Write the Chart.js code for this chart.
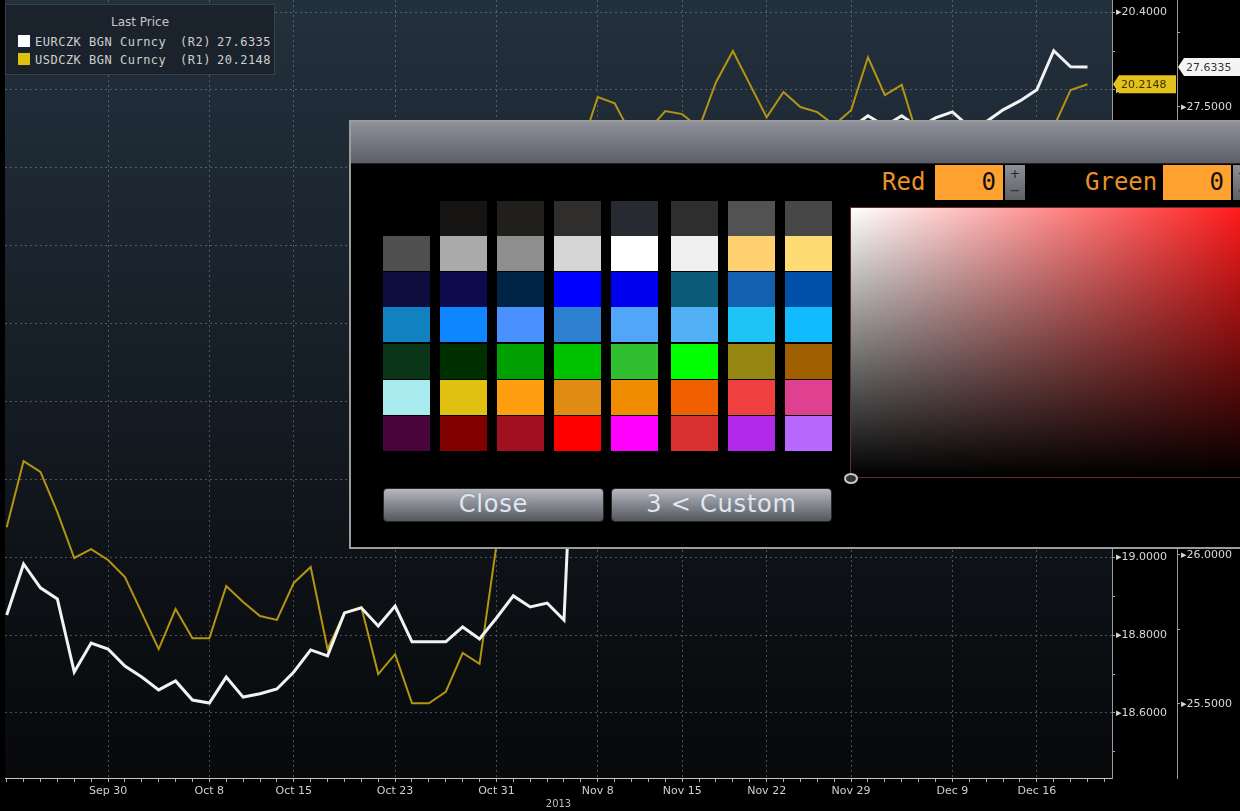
<!DOCTYPE html>
<html>
<head>
<meta charset="utf-8">
<title>EURCZK / USDCZK - Last Price</title>
<script src="https://cdn.jsdelivr.net/npm/chart.js@4.4.1/dist/chart.umd.min.js"></script>
<style>
  html, body { margin: 0; padding: 0; background: #000; }
  #wrap { position: relative; width: 1240px; height: 811px; overflow: hidden; font-family: 'DejaVu Sans', sans-serif; }
  #chart { position: absolute; left: 0; top: 0; }
  .abs { position: absolute; white-space: nowrap; }
  .legend { left: 5px; top: 4px; width: 268px; height: 69px; background: #1a232c; border: 1px solid #36424e; }
  .lg { font-family: 'DejaVu Sans Mono', monospace; font-size: 12px; letter-spacing: 0.5px; color: #cfcfcf; line-height: 16px; }
  .sq { width: 12px; height: 12px; }
  .dlg { left: 349px; top: 120px; width: 900px; height: 425px; background: #000; border: 2px solid #9c9c9c; border-right: none; }
  .dlg-title { position: absolute; left: 0; top: 0; right: 0; height: 41px; background: linear-gradient(#8e909a, #5d5f68); border-bottom: 1px solid #222; }
  .sw { position: absolute; width: 47px; height: 35px; }
  .btn { height: 32px; border-radius: 4px; border: 1px solid #2a2a2a; background: linear-gradient(#b6b8be, #8a8c94 45%, #55575f); color: #e6e6e6; font-size: 24px; letter-spacing: 0.8px; line-height: 31px; text-align: center; text-shadow: 0 0 2px #6a8cb0; }
  .lab { font-family: 'DejaVu Sans Mono', monospace; font-size: 24px; color: #e8922a; line-height: 34px; }
  .inp { height: 35px; background: #ffa12e; color: #111; font-family: 'DejaVu Sans Mono', monospace; font-size: 24px; line-height: 35px; text-align: right; box-sizing: border-box; padding-right: 7px; }
  .spin { width: 20px; height: 35px; background: linear-gradient(#8e9096, #5e6066); color: #2a2a2a; font-size: 13px; line-height: 17px; text-align: center; }
  .grad { left: 850px; top: 207px; width: 392px; height: 271px; border: 1px solid #6b2a2a; box-sizing: border-box;
          background: linear-gradient(to top, #000, rgba(0,0,0,0)), linear-gradient(to right, #fff, #ff1a1a); }
  .mark { left: 844px; top: 473px; width: 10px; height: 7px; border: 2px solid #c8c8c8; border-radius: 50%; background: #333; }
</style>
</head>
<body>
<div id="wrap">
  <canvas id="chart" width="1240" height="811"></canvas>

  <div class="abs legend"></div>
  <div class="abs" style="left:5px; top:15px; width:270px; text-align:center; font-size:12px; color:#c6c6c6;">Last Price</div>
  <div class="abs sq" style="left:18px; top:35px; background:#ffffff;"></div>
  <div class="abs lg" style="left:35px; top:34px;">EURCZK BGN Curncy</div>
  <div class="abs lg" style="left:180px; top:34px;">(R2)</div>
  <div class="abs lg" style="left:217px; top:34px;">27.6335</div>
  <div class="abs sq" style="left:18px; top:53px; background:#e0c010;"></div>
  <div class="abs lg" style="left:35px; top:52px;">USDCZK BGN Curncy</div>
  <div class="abs lg" style="left:180px; top:52px;">(R1)</div>
  <div class="abs lg" style="left:217px; top:52px;">20.2148</div>

  <div class="abs dlg"><div class="dlg-title"></div></div>
  <div id="swatches"></div>
  <div class="abs btn" style="left:383px; top:488px; width:219px;">Close</div>
  <div class="abs btn" style="left:611px; top:488px; width:219px;">3 &lt; Custom</div>

  <div class="abs lab" style="left:882px; top:165px;">Red</div>
  <div class="abs inp" style="left:935px; top:165px; width:68px;">0</div>
  <div class="abs spin" style="left:1005px; top:165px;">+<br>&minus;</div>
  <div class="abs lab" style="left:1085px; top:165px;">Green</div>
  <div class="abs inp" style="left:1163px; top:165px; width:68px;">0</div>
  <div class="abs spin" style="left:1233px; top:165px;">+<br>&minus;</div>
  <div class="abs grad"></div>
  <div class="abs mark"></div>
</div>

<script>
// business days on the x axis, Sep 20 .. Dec 20 2013
const days = [
  'Sep 20', 'Sep 23', 'Sep 24', 'Sep 25', 'Sep 26', 'Sep 27',
  'Sep 30', 'Oct 1', 'Oct 2', 'Oct 3', 'Oct 4',
  'Oct 7', 'Oct 8', 'Oct 9', 'Oct 10', 'Oct 11',
  'Oct 14', 'Oct 15', 'Oct 16', 'Oct 17', 'Oct 18',
  'Oct 21', 'Oct 22', 'Oct 23', 'Oct 24', 'Oct 25',
  'Oct 28', 'Oct 29', 'Oct 30', 'Oct 31', 'Nov 1',
  'Nov 4', 'Nov 5', 'Nov 6', 'Nov 7', 'Nov 8',
  'Nov 11', 'Nov 12', 'Nov 13', 'Nov 14', 'Nov 15',
  'Nov 18', 'Nov 19', 'Nov 20', 'Nov 21', 'Nov 22',
  'Nov 25', 'Nov 26', 'Nov 27', 'Nov 28', 'Nov 29',
  'Dec 2', 'Dec 3', 'Dec 4', 'Dec 5', 'Dec 6',
  'Dec 9', 'Dec 10', 'Dec 11', 'Dec 12', 'Dec 13',
  'Dec 16', 'Dec 17', 'Dec 18', 'Dec 19', 'Dec 20'
];
const labelledDays = ['Sep 30', 'Oct 8', 'Oct 15', 'Oct 23', 'Oct 31', 'Nov 8',
                      'Nov 15', 'Nov 22', 'Nov 29', 'Dec 9', 'Dec 16'];
const yearLabel = '2013';

// EURCZK BGN Curncy (R2)
const eurczk = [
  25.798, 25.969, 25.889, 25.852, 25.607, 25.704, 25.684, 25.627, 25.590, 25.547,
  25.577, 25.513, 25.503, 25.590, 25.523, 25.534, 25.550, 25.607, 25.681, 25.661,
  25.805, 25.822, 25.761, 25.828, 25.708, 25.708, 25.708, 25.758, 25.718, 25.788,
  25.862, 25.825, 25.838, 25.781, 27.030, 27.140, 27.220, 27.180, 27.280, 27.310,
  27.250, 27.290, 27.330, 27.370, 27.300, 27.280, 27.350, 27.380, 27.400, 27.360,
  27.430, 27.470, 27.436, 27.470, 27.430, 27.463, 27.483, 27.433, 27.450, 27.490,
  27.520, 27.557, 27.688, 27.634, 27.6335
];
// USDCZK BGN Curncy (R1)
const usdczk = [
  19.077, 19.247, 19.219, 19.116, 18.998, 19.021, 18.993, 18.949, 18.857, 18.764,
  18.867, 18.792, 18.792, 18.926, 18.885, 18.849, 18.839, 18.934, 18.975, 18.764,
  18.857, 18.872, 18.700, 18.751, 18.625, 18.625, 18.654, 18.754, 18.726, 19.031,
  19.150, 19.280, 19.350, 19.300, 20.050, 20.182, 20.166, 20.084, 20.097, 20.146,
  20.138, 20.102, 20.220, 20.300, 20.215, 20.130, 20.195, 20.156, 20.143, 20.110,
  20.148, 20.284, 20.187, 20.213, 20.071, 20.000, 19.980, 19.950, 19.970, 20.000,
  19.960, 20.020, 20.105, 20.200, 20.2148
];

const r1Major = [18.6, 18.8, 19.0, 19.2, 19.4, 19.6, 19.8, 20.0, 20.2, 20.4];
const r1Minor = [18.5, 18.7, 18.9, 19.1, 19.3, 19.5, 19.7, 19.9, 20.1, 20.3];
const r2Major = [25.5, 26.0, 26.5, 27.0, 27.5];
const r2Minor = [25.75, 26.25, 26.75, 27.25, 27.75];

// palette swatches in the colour dialog
const swatchRows = [
  [null, '#151413', '#211f1c', '#302e2c', '#272b31', '#2e2e2e', '#525252', '#474747'],
  ['#4f4f4f', '#aaaaaa', '#8e8e8e', '#d6d6d6', '#ffffff', '#f0f0f0', '#ffd070', '#ffdb75'],
  ['#0e0e3e', '#0d0a4e', '#002444', '#0000ff', '#0000ee', '#0b5b78', '#1360b0', '#0050a8'],
  ['#1181c0', '#0d86ff', '#4a90ff', '#2e80d0', '#52a6fa', '#52b0f5', '#1ec4f5', '#10bbff'],
  ['#0b3519', '#003000', '#00a000', '#00c300', '#2fbf2f', '#00ff00', '#968612', '#a05f00'],
  ['#a8ecf0', '#e0c010', '#ff9f10', '#e08c12', '#f08c00', '#f06000', '#f04040', '#e04090'],
  ['#4a043c', '#800000', '#a01020', '#ff0000', '#ff00ff', '#d83030', '#b028e8', '#b868ff']
];
const swCols = [383, 440, 497, 554, 611, 671, 728, 785];
const swRows = [201, 236, 272, 307, 344, 380, 416];
const swHost = document.getElementById('swatches');
swatchRows.forEach((row, r) => row.forEach((c, k) => {
  if (!c) return;
  const d = document.createElement('div');
  d.className = 'sw';
  d.style.left = swCols[k] + 'px';
  d.style.top = swRows[r] + 'px';
  d.style.background = c;
  swHost.appendChild(d);
}));

const FONT = 'DejaVu Sans';
const gridCol = 'rgba(125,138,150,0.55)';
const hidden = 'rgba(0,0,0,0)';
const near = (list, v) => list.some(m => Math.abs(m - v) < 1e-6);

// no label overflow padding at the ends of the value axes
function noPad(s, w) {
  s.width = w;
  s.paddingTop = 0;
  s.paddingBottom = 0;
}

const bgPlugin = {
  id: 'bg',
  beforeDraw(chart) {
    const { ctx, chartArea: a } = chart;
    const g = ctx.createLinearGradient(0, a.top, 0, a.bottom);
    g.addColorStop(0, '#23313d');
    g.addColorStop(0.4, '#18212a');
    g.addColorStop(0.75, '#0d1115');
    g.addColorStop(1, '#07090b');
    ctx.save();
    ctx.fillStyle = g;
    ctx.fillRect(a.left, a.top, a.right - a.left, a.bottom - a.top);
    ctx.restore();
  }
};

function tag(ctx, x, y, w, text, bg, fg) {
  ctx.save();
  ctx.beginPath();
  ctx.moveTo(x, y);
  ctx.lineTo(x + 6, y - 9);
  ctx.lineTo(x + w, y - 9);
  ctx.lineTo(x + w, y + 9);
  ctx.lineTo(x + 6, y + 9);
  ctx.closePath();
  ctx.fillStyle = bg;
  ctx.fill();
  ctx.fillStyle = fg;
  ctx.font = '11px ' + FONT;
  ctx.textBaseline = 'middle';
  ctx.fillText(text, x + 8, y + 1);
  ctx.restore();
}

const lastTags = {
  id: 'lastTags',
  afterDraw(chart) {
    const { ctx, scales } = chart;
    const lu = usdczk[usdczk.length - 1];
    const le = eurczk[eurczk.length - 1];
    tag(ctx, scales.y1.left + 1, scales.y1.getPixelForValue(lu), 63, lu.toFixed(4), '#e3c21c', '#3a3000');
    tag(ctx, scales.y2.left + 1, scales.y2.getPixelForValue(le), 63, le.toFixed(4), '#f4f4f4', '#333');
  }
};

new Chart(document.getElementById('chart').getContext('2d'), {
  type: 'line',
  data: {
    datasets: [
      {
        label: 'EURCZK BGN Curncy',
        data: eurczk.map((v, i) => ({ x: i, y: v })),
        yAxisID: 'y2',
        borderColor: '#f2f2f2',
        borderWidth: 3,
        pointRadius: 0,
        tension: 0
      },
      {
        label: 'USDCZK BGN Curncy',
        data: usdczk.map((v, i) => ({ x: i, y: v })),
        yAxisID: 'y1',
        borderColor: '#b39513',
        borderWidth: 2,
        pointRadius: 0,
        tension: 0
      }
    ]
  },
  options: {
    responsive: false,
    devicePixelRatio: 1,
    animation: false,
    layout: { padding: { left: 5, top: 0, right: 0, bottom: 0 } },
    plugins: { legend: { display: false }, tooltip: { enabled: false } },
    scales: {
      x: {
        type: 'linear',
        min: -0.1,
        max: 65.45,
        afterBuildTicks: axis => { axis.ticks = days.map((d, i) => ({ value: i })); },
        afterFit: s => { s.height = 33; s.paddingLeft = 0; s.paddingRight = 0; },
        grid: {
          color: c => (c.tick && labelledDays.includes(days[c.tick.value])) ? gridCol : hidden,
          tickColor: '#b0b0b0',
          tickLength: 4,
          drawOnChartArea: true
        },
        border: { display: true, color: '#c8c8c8', width: 1, dash: [2, 3] },
        ticks: {
          autoSkip: false,
          maxRotation: 0,
          padding: 3,
          color: '#cfcfcf',
          font: { family: FONT, size: 11 },
          callback: v => labelledDays.includes(days[v]) ? days[v] : ''
        },
        title: {
          display: true,
          text: yearLabel,
          color: '#bdbdbd',
          font: { family: FONT, size: 10 },
          padding: { top: 0, bottom: 1 }
        }
      },
      y1: {
        position: 'right',
        weight: 0,
        min: 18.433,
        max: 20.431,
        afterBuildTicks: axis => { axis.ticks = r1Major.concat(r1Minor).sort((a, b) => a - b).map(v => ({ value: v })); },
        afterFit: s => noPad(s, 65),
        grid: {
          color: c => (c.tick && near(r1Major, c.tick.value)) ? gridCol : hidden,
          tickColor: '#a8a8a8',
          tickLength: 3,
          drawOnChartArea: true
        },
        border: { display: true, color: '#9a9a9a', width: 1, dash: [2, 3] },
        ticks: {
          autoSkip: false,
          padding: 1,
          color: '#d8d8d8',
          font: { family: FONT, size: 11 },
          callback: v => near(r1Major, v) ? '\u25B8' + v.toFixed(4) : ''
        }
      },
      y2: {
        position: 'right',
        weight: 1,
        min: 25.252,
        max: 27.858,
        afterBuildTicks: axis => { axis.ticks = r2Major.concat(r2Minor).sort((a, b) => a - b).map(v => ({ value: v })); },
        afterFit: s => noPad(s, 63),
        grid: {
          color: '#a8a8a8',
          tickColor: '#a8a8a8',
          tickLength: 3,
          drawOnChartArea: false
        },
        border: { display: true, color: '#9a9a9a', width: 1 },
        ticks: {
          autoSkip: false,
          padding: 1,
          color: '#d8d8d8',
          font: { family: FONT, size: 11 },
          callback: v => near(r2Major, v) ? '\u25B8' + v.toFixed(4) : ''
        }
      }
    }
  },
  plugins: [bgPlugin, lastTags]
});
</script>
</body>
</html>
